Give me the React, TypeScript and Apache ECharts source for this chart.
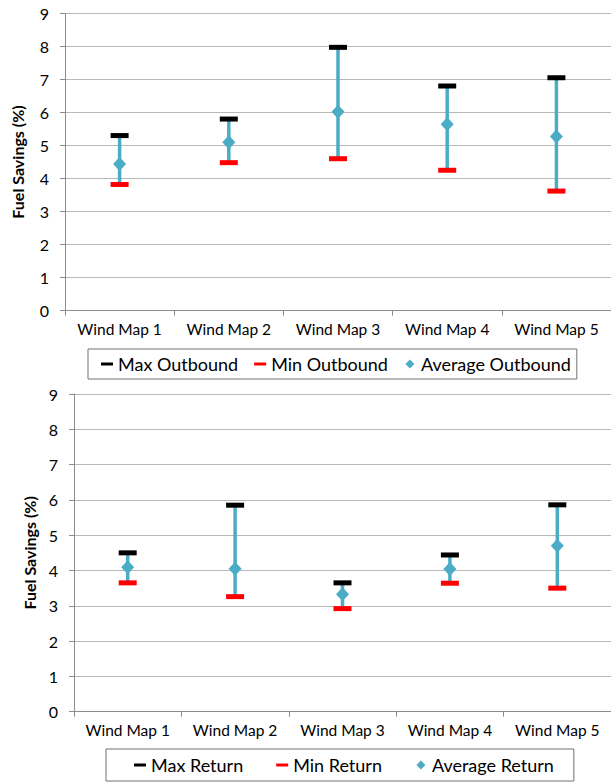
import React, { useEffect, useRef } from "react";
import * as echarts from "echarts";

const categories = ["Wind Map 1", "Wind Map 2", "Wind Map 3", "Wind Map 4", "Wind Map 5"];
const outMax = [5.3, 5.8, 7.97, 6.8, 7.05];
const outMin = [3.82, 4.48, 4.6, 4.25, 3.62];
const outAvg = [4.44, 5.1, 6.02, 5.64, 5.27];
const retMax = [4.5, 5.85, 3.65, 4.44, 5.86];
const retMin = [3.65, 3.26, 2.92, 3.64, 3.5];
const retAvg = [4.09, 4.05, 3.33, 4.04, 4.7];
const outNames = ["Max Outbound", "Min Outbound", "Average Outbound"];
const retNames = ["Max Return", "Min Return", "Average Return"];
const yAxisTitle = "Fuel Savings (%)";

const FONT = "Lato";
const TEAL = "#4bacc6";
const DASH = "path://M0,0 M12,12 M0,4.5 h12 v3 h-12 z";
const DIAMOND = "path://M0,0 M12,12 M6,1.5 L10.5,6 L6,10.5 L1.5,6 Z";

function errorSeries(idx: number, mins: number[], maxs: number[]) {
  return {
    type: "custom",
    xAxisIndex: idx,
    yAxisIndex: idx,
    silent: true,
    z: 1,
    renderItem: (params: any, api: any) => {
      const a = api.coord([api.value(0), api.value(1)]);
      const b = api.coord([api.value(0), api.value(2)]);
      return {
        type: "line",
        shape: { x1: a[0], y1: a[1], x2: b[0], y2: b[1] },
        style: { stroke: TEAL, lineWidth: 3.5 },
      };
    },
    data: mins.map((m, i) => [i, m, maxs[i]]),
  };
}

function markSeries(idx: number, name: string, data: number[], color: string, symbol: string, size: any) {
  return {
    type: "scatter",
    name,
    xAxisIndex: idx,
    yAxisIndex: idx,
    symbol,
    symbolSize: size,
    itemStyle: { color, opacity: 1 },
    z: 3,
    data,
  };
}

function axes(idx: number, nameGap: number) {
  const x = {
    type: "category",
    gridIndex: idx,
    data: categories,
    boundaryGap: true,
    axisLine: { show: true, lineStyle: { color: "#8c8c8c", width: 1 } },
    axisTick: { show: true, length: 5, alignWithLabel: false, interval: 0, lineStyle: { color: "#8c8c8c" } },
    axisLabel: { color: "#000", fontFamily: FONT, fontSize: 15.5, margin: 10, interval: 0 },
  };
  const y = {
    type: "value",
    gridIndex: idx,
    min: 0,
    max: 9,
    interval: 1,
    name: yAxisTitle,
    nameLocation: "middle",
    nameGap,
    nameTextStyle: { color: "#000", fontFamily: FONT, fontSize: 16, fontWeight: "bold" },
    axisLine: { show: true, lineStyle: { color: "#8c8c8c", width: 1 } },
    axisTick: { show: true, length: 5, lineStyle: { color: "#8c8c8c" } },
    axisLabel: { color: "#000", fontFamily: FONT, fontSize: 16, margin: 16 },
    splitLine: { show: true, lineStyle: { color: "#b8b8b8", width: 1 } },
  };
  return { x, y };
}

export default function App() {
  const ref = useRef<HTMLDivElement>(null);
  useEffect(() => {
    document.body.style.margin = "0";
    const chart = echarts.init(ref.current!, null, { renderer: "svg" });
    const a0 = axes(0, 40);
    const a1 = axes(1, 36);
    const legendBase = {
      orient: "horizontal",
      borderColor: "#707070",
      borderWidth: 1,
      itemWidth: 12,
      itemHeight: 12,
      textStyle: { color: "#000", fontFamily: FONT, fontSize: 18 },
    };
    chart.setOption({
      animation: false,
      backgroundColor: "#fff",
      grid: [
        { left: 65, top: 13.3, width: 547, height: 297.4, containLabel: false },
        { left: 74, top: 394, width: 547.5, height: 317.7, containLabel: false },
      ],
      xAxis: [a0.x, a1.x],
      yAxis: [a0.y, a1.y],
      legend: [
        {
          ...legendBase,
          left: 88,
          top: 349,
          padding: [6, 6, 6, 13],
          itemGap: 16,
          data: [
            { name: outNames[0], icon: DASH },
            { name: outNames[1], icon: DASH },
            { name: outNames[2], icon: DIAMOND },
          ],
        },
        {
          ...legendBase,
          left: 106,
          top: 749,
          padding: [7, 20, 7, 28],
          itemGap: 33,
          data: [
            { name: retNames[0], icon: DASH },
            { name: retNames[1], icon: DASH },
            { name: retNames[2], icon: DIAMOND },
          ],
        },
      ],
      series: [
        errorSeries(0, outMin, outMax),
        markSeries(0, outNames[0], outMax, "#000", "rect", [18, 5]),
        markSeries(0, outNames[1], outMin, "#ff0000", "rect", [18, 5]),
        markSeries(0, outNames[2], outAvg, TEAL, "diamond", [13, 14]),
        errorSeries(1, retMin, retMax),
        markSeries(1, retNames[0], retMax, "#000", "rect", [18, 5]),
        markSeries(1, retNames[1], retMin, "#ff0000", "rect", [18, 5]),
        markSeries(1, retNames[2], retAvg, TEAL, "diamond", [13, 14]),
      ],
    });
    return () => chart.dispose();
  }, []);
  return (
    <div
      ref={ref}
      style={{ position: "absolute", left: 0, top: 0, width: 611, height: 783 }}
    />
  );
}
